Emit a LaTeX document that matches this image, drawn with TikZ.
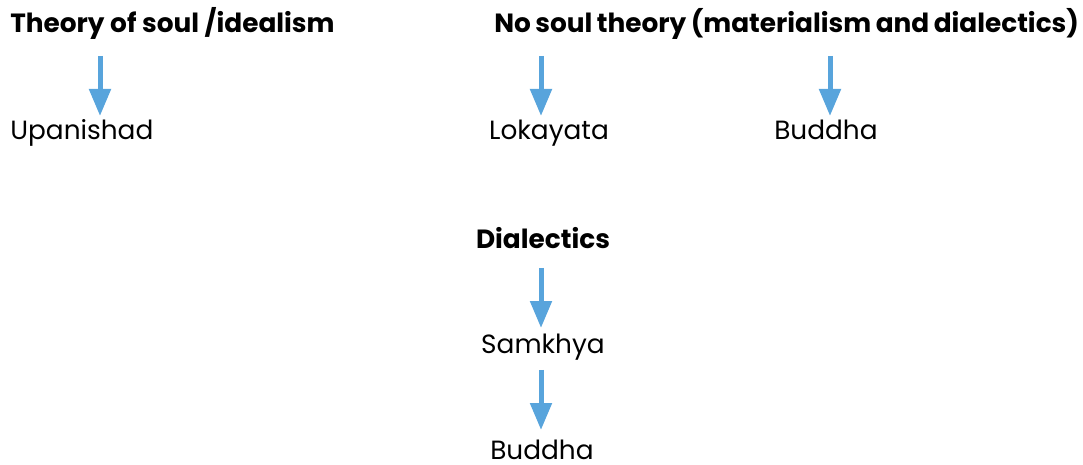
\documentclass[tikz,border=0pt]{standalone}
\usepackage{fontspec}
\setmainfont{Poppins}
\usetikzlibrary{arrows.meta}
\definecolor{flowblue}{RGB}{88,164,220}

\begin{document}
\begin{tikzpicture}[x=0.02cm,y=-0.02cm,
        %Option for the blue arrows%
        flow/.style={draw=flowblue, line width=0.1cm,
            -{Triangle[length=0.54cm,width=0.42cm]}},%
        head/.style={font=\fontsize{15}{18}\selectfont\bfseries, inner sep=0pt},%
        item/.style={font=\fontsize{15}{18}\selectfont, inner sep=0pt}%
    ]
    \useasboundingbox (0,0) rectangle (1083,465);
    %% headings
    \node[head, anchor=base west] (soul)   at (10,33)  {Theory of soul /idealism};
    \node[head, anchor=base west] (nosoul) at (494,33)
        {\spaceskip=0.17em No soul theory (materialism and dialectics)};
    \node[head, anchor=base] (dial) at (543,249) {Dialectics};
    %% schools
    \node[item, anchor=base west] (upan) at (10,140)  {Upanishad};
    \node[item, anchor=base] (loka)  at (549,140) {Lokayata};
    \node[item, anchor=base] (budA)  at (826,140) {Buddha};
    \node[item, anchor=base] (samk)  at (543,354) {Samkhya};
    \node[item, anchor=base] (budB)  at (542,460) {Buddha};
    %% arrow ends
    \coordinate (s1) at (100,56);  \coordinate (e1) at (100,116);
    \coordinate (s2) at (541,56);  \coordinate (e2) at (541,116);
    \coordinate (s3) at (830,56);  \coordinate (e3) at (830,116);
    \coordinate (s4) at (541,268); \coordinate (e4) at (541,328);
    \coordinate (s5) at (541,370); \coordinate (e5) at (541,430);
    \foreach \i in {1,...,5}
        \draw[flow] (s\i) -- (e\i);
\end{tikzpicture}
\end{document}
